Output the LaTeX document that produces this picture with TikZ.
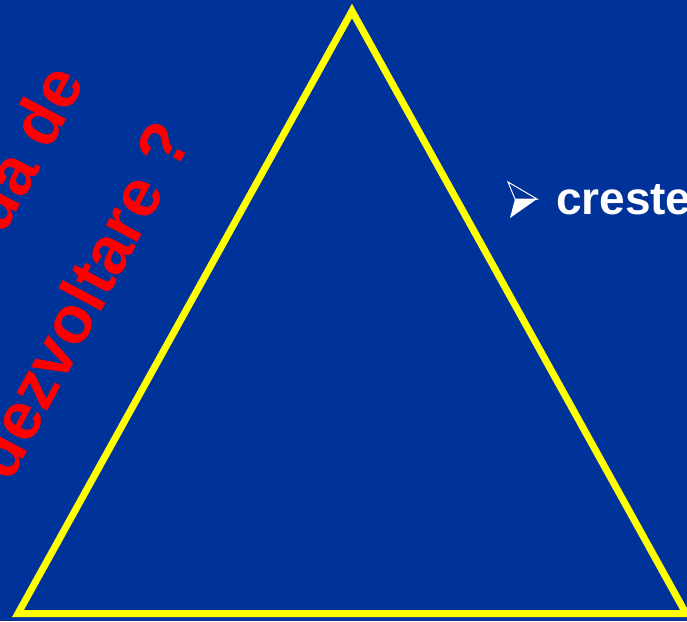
\documentclass[tikz,border=0pt]{standalone}
\usepackage{fontspec}
\setmainfont{Liberation Sans}
\definecolor{bgblue}{RGB}{0,51,153}
\definecolor{triyellow}{RGB}{255,255,0}
\definecolor{txtred}{RGB}{255,0,0}
\tikzset{
  redtxt/.style={text=txtred, font=\fontsize{67}{67}\selectfont\bfseries, inner sep=0pt, outer sep=0pt, rotate=62},
  whitetxt/.style={text=white, font=\fontsize{46}{46}\selectfont\bfseries, inner sep=0pt, outer sep=0pt},
  triline/.style={draw=triyellow, line width=7pt, miter limit=20, line join=miter}
}
\begin{document}
\begin{tikzpicture}[x=1pt,y=-1pt]
\fill[bgblue] (0,0) rectangle (687,621);
\useasboundingbox (0,0) rectangle (687,621);
\clip (0,0) rectangle (687,621);
% triangle
\coordinate (apex) at (352,11);
\coordinate (bl) at (18,613.5);
\coordinate (br) at (686,613.5);
\draw[triline] (apex) -- (br) -- (bl) -- cycle;
% red rotated text
\node[redtxt, anchor=base east] (l1) at (86,82) {ua de};
\node[redtxt, anchor=base west] (l2) at (10,483) {dezvoltare ?};
% bullet arrowhead
\coordinate (atip) at (537,199);
\coordinate (atop) at (508,182);
\coordinate (abot) at (510,218);
\coordinate (anotch) at (515,199);
\fill[white] (anotch) -- (atip) -- (abot) -- cycle;
\draw[white, line width=1pt, line join=miter] (atop) -- (atip) -- (anotch) -- cycle;
% white text
\node[whitetxt, anchor=base west] (t1) at (556,214) {creste};
\end{tikzpicture}
\end{document}
